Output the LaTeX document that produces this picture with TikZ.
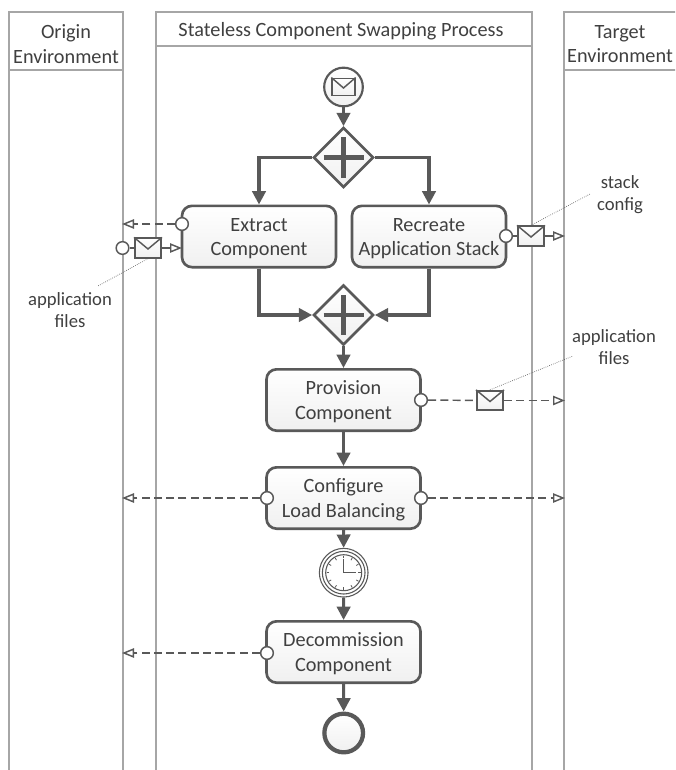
\documentclass[tikz,border=0pt]{standalone}
\usepackage{fontspec}
\setmainfont{Carlito}
\usetikzlibrary{arrows.meta,shapes.geometric,calc}
\definecolor{ink}{HTML}{595959}
\definecolor{lanec}{HTML}{A6A6A6}
\definecolor{txt}{HTML}{404040}
\definecolor{shade}{HTML}{F0F0F0}
\tikzset{
  x=0.75pt,y=-0.75pt,
  every node/.style={text=txt,font=\fontsize{15.2}{18.4}\selectfont,align=center,inner sep=0pt},
  lane/.style={draw=lanec,line width=2.2pt,fill=white},
  task/.style={draw=ink,line width=2pt,rounded corners=7.5pt,top color=white,bottom color=shade,minimum width=115.5pt,minimum height=46pt},
  gate/.style={diamond,draw=ink,line width=2pt,top color=white,bottom color=shade,minimum width=45pt,minimum height=45pt,aspect=1},
  plusbar/.style={draw=ink,line width=3.2pt},
  flow/.style={draw=ink,line width=2.3pt,-{Triangle[length=10pt,width=10pt]}},
  msgflow/.style={draw=ink,line width=1.1pt,dash pattern=on 6pt off 3.2pt,-{Triangle[open,fill=white,length=9pt,width=7pt,line width=1.1pt]}},
  port/.style={circle,draw=ink,line width=1.1pt,fill=white,minimum size=9.5pt},
  envel/.style={rectangle,draw=ink,line width=1.5pt,top color=white,bottom color=shade,minimum width=19.5pt,minimum height=14.5pt},
  flap/.style={draw=ink,line width=1.1pt},
  assoc/.style={draw=ink,line width=0.5pt,densely dotted},
  timerring/.style={circle,draw=ink,line width=0.8pt,fill=white},
  note/.style={font=\fontsize{14}{17}\selectfont},
}
\newcommand{\envflap}[1]{\draw[flap] (#1.north west) -- ($(#1.center)+(0,1)$) -- (#1.north east);}
\newcommand{\lowr}{\rule{0pt}{13pt}}
\begin{document}
\begin{tikzpicture}
\useasboundingbox (0,0) rectangle (675,770);
\clip (0,0) rectangle (675,770);
% lanes
\draw[lane] (9,790) -- (9,12) -- (123,12) -- (123,790);
\draw[lane] (156,790) -- (156,12) -- (532,12) -- (532,790);
\draw[lane] (564,790) -- (564,12) -- (700,12);
\draw[lane] (9,70) -- (123,70);
\draw[lane] (156,46) -- (532,46);
\draw[lane] (564,70) -- (700,70);
\node (ho) at (66,44) {Origin\\Environment};
\node (hm) at (341,31) {Stateless Component Swapping Process};
\node (ht) at (620,44) {Target\\Environment};
% free ends
\coordinate (oa) at (122,224);
\coordinate (ob) at (122,498);
\coordinate (oc) at (122,653);
\coordinate (ta) at (565,236);
\coordinate (tb) at (565,400.5);
\coordinate (tc) at (565,498);
% start
\node[circle,draw=ink,line width=1.6pt,top color=white,bottom color=shade,minimum size=29pt] (st) at (343.5,87) {};
\node[envel,line width=1.2pt,minimum width=17pt,minimum height=13pt] (sm) at (343.5,87) {};
\envflap{sm}
% gateways
\node[gate] (g1) at (343.5,157.5) {};
\draw[plusbar] (g1.center) ++(-20,0) -- ++(40,0);
\draw[plusbar] (g1.center) ++(0,-20) -- ++(0,40);
\node[gate] (g2) at (343.5,315) {};
\draw[plusbar] (g2.center) ++(-20,0) -- ++(40,0);
\draw[plusbar] (g2.center) ++(0,-20) -- ++(0,40);
% tasks
\node[task] (ex) at (259,236.5) {\lowr Extract\\Component};
\node[task] (re) at (429,236.5) {\lowr Recreate\\Application Stack};
\node[task] (pr) at (343.5,400) {\lowr Provision\\Component};
\node[task] (co) at (343.5,498) {\lowr Configure\\Load Balancing};
\node[task] (de) at (343.5,652) {\lowr Decommission\\Component};
% timer
\node[timerring,minimum size=36.5pt] (ti) at (343.7,572.7) {};
\node[timerring,minimum size=32pt] (ti2) at (ti.center) {};
\node[timerring,minimum size=27pt,draw=ink] (ti3) at (ti.center) {};
\foreach \a in {0,30,...,330}{\draw[ink,line width=0.6pt] (ti.center) ++(\a:14.5) -- ++(\a:2.5);}
\draw[ink,line width=1pt] (ti.center) ++(0,-14) -- (ti.center) -- ++(12,0);
% end
\node[circle,draw=ink,line width=3.2pt,top color=white,bottom color=shade,minimum size=29pt] (en) at (343.7,733) {};
% sequence flows
\draw[flow] (st) -- (g1);
\draw[flow] (g1.west) -| (ex.north);
\draw[flow] (g1.east) -| (re.north);
\draw[flow] (ex.south) |- (g2.west);
\draw[flow] (re.south) |- (g2.east);
\draw[flow] (g2) -- (pr);
\draw[flow] (pr) -- (co);
\draw[flow] (co) -- (ti);
\draw[flow] (ti) -- (de);
\draw[flow] (de) -- (en);
% message flows
\node[port] (p1) at (182,224) {};
\draw[msgflow] (p1) -- (oa);
\node[port] (p2) at (122.5,248) {};
\node[envel] (m2) at (148,248) {};
\envflap{m2}
\coordinate (x1) at (182,248);
\draw[msgflow] (m2) -- (x1);
\draw[ink,line width=1.1pt] (p2) -- (m2);
\node[port] (p3) at (506,236) {};
\node[envel] (m3) at (531,236) {};
\envflap{m3}
\draw[ink,line width=1.1pt] (p3) -- (m3);
\draw[msgflow] (m3) -- (ta);
\node[port] (p4) at (421,400) {};
\node[envel] (m4) at (490,400.5) {};
\envflap{m4}
\draw[ink,line width=1.1pt,dash pattern=on 6pt off 3.2pt] (p4) -- (m4);
\draw[msgflow] (m4) -- (tb);
\node[port] (p5) at (267,498) {};
\draw[msgflow] (p5) -- (ob);
\node[port] (p6) at (421,498) {};
\draw[msgflow] (p6) -- (tc);
\node[port] (p7) at (267,653) {};
\draw[msgflow] (p7) -- (oc);
% annotations
\node[note] (n1) at (70,310) {application\\files};
\coordinate (a1) at (98,286);
\draw[assoc] (m2.south) -- (a1);
\node[note] (n2) at (620,194.5) {stack\\config};
\coordinate (a2) at (590,194);
\draw[assoc] (m3.north) -- (a2);
\node[note] (n3) at (614,347) {application\\files};
\coordinate (a3) at (573,356);
\draw[assoc] (m4.north) -- (a3);
\end{tikzpicture}
\end{document}
